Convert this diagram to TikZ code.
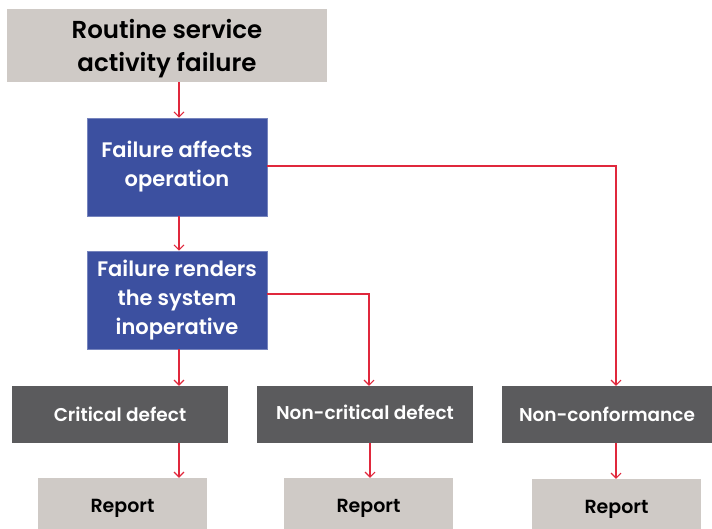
\documentclass[tikz,border=0pt]{standalone}
\usepackage{fontspec}
\setmainfont{Poppins}[BoldFont={Poppins SemiBold}]
\usetikzlibrary{arrows.meta}
\definecolor{lightbox}{HTML}{CFCAC6}
\definecolor{bluebox}{HTML}{3C50A0}
\definecolor{darkbox}{HTML}{5B5B5D}
\definecolor{arrred}{HTML}{E0283C}
\tikzset{
  base/.style={rectangle, inner sep=0pt, align=center, font=\bfseries},
  topbox/.style={base, fill=lightbox, text=black, minimum width=320pt, minimum height=73pt, font=\fontsize{24.5}{33}\selectfont\bfseries},
  bluenode/.style={base, fill=bluebox, draw=bluebox!70!white, line width=0.6pt, text=white, minimum width=180pt, minimum height=98pt, font=\fontsize{21}{29}\selectfont\bfseries},
  darknode/.style={base, fill=darkbox, text=white, minimum height=57pt, font=\fontsize{18.5}{22}\selectfont\bfseries},
  reportnode/.style={base, fill=lightbox, text=black, minimum width=169pt, font=\fontsize{19}{22}\selectfont\bfseries},
  arr/.style={draw=arrred, line width=1.1pt, -{Straight Barb[length=5pt,width=10pt,line width=1.1pt]}}
}
\newcommand{\dropby}[2]{\raisebox{-#1}[\height][\depth]{#2}}
\begin{document}
\begin{tikzpicture}[x=1pt, y=-1pt]
\useasboundingbox (0,0) rectangle (712,529);
\node[topbox] (top) at (167,45.5) {\dropby{3pt}{Routine service}\\\dropby{3pt}{activity failure}};
\node[bluenode] (b2) at (177,167) {Failure affects\\operation};
\node[bluenode] (b3) at (177,300) {Failure renders\\the system\\inoperative};
\node[darknode, minimum width=216pt] (crit) at (120,414.5) {Critical defect};
\node[darknode, minimum width=216pt] (noncrit) at (365,414.5) {\dropby{-2pt}{Non-critical defect}};
\node[darknode, minimum width=210pt] (nonconf) at (607,414.5) {Non-conformance};
\node[reportnode, minimum height=51pt] (r1) at (122.5,503.5) {\dropby{5pt}{Report}};
\node[reportnode, minimum height=51pt] (r2) at (368.5,503.5) {\dropby{5pt}{Report}};
\node[reportnode, minimum height=50pt] (r3) at (616.5,504) {\dropby{5pt}{Report}};
\coordinate (xa) at (179,0);
\coordinate (xb) at (369,294);
\coordinate (xc) at (616,166);
\coordinate (xd) at (370,0);
\draw[arr] (top.south -| xa) -- (b2.north -| xa);
\draw[arr] (b2.south -| xa) -- (b3.north -| xa);
\draw[arr] (b2.east |- xc) -- (xc) -- (nonconf.north -| xc);
\draw[arr] (b3.east |- xb) -- (xb) -- (noncrit.north -| xb);
\draw[arr] (b3.south -| xa) -- (crit.north -| xa);
\draw[arr] (crit.south -| xa) -- (r1.north -| xa);
\draw[arr] (noncrit.south -| xd) -- (r2.north -| xd);
\draw[arr] (nonconf.south -| xc) -- (r3.north -| xc);
\end{tikzpicture}
\end{document}
